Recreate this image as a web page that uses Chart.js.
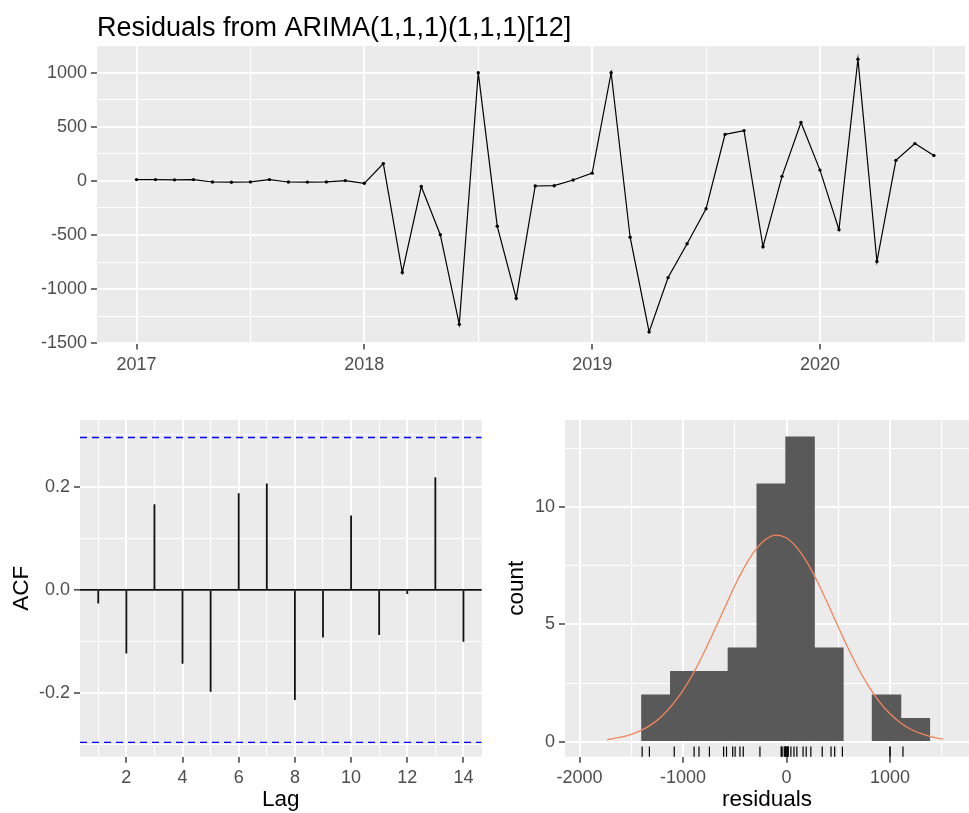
<!DOCTYPE html>
<html>
<head>
<meta charset="utf-8">
<title>Residuals from ARIMA(1,1,1)(1,1,1)[12]</title>
<script src="https://cdn.jsdelivr.net/npm/chart.js@4.4.1/dist/chart.umd.min.js"></script>
<style>
  body { margin: 0; background: #ffffff; }
  #wrap { position: relative; width: 969px; height: 813px; overflow: hidden; }
  canvas { position: absolute; }
</style>
</head>
<body>
<div id="wrap">
  <canvas id="chart-residuals" width="969" height="400" style="left:0;top:0"></canvas>
  <canvas id="chart-acf" width="490" height="413" style="left:0;top:400px"></canvas>
  <canvas id="chart-hist" width="479" height="413" style="left:490px;top:400px"></canvas>
</div>
<script>
// values
var plotTitle = 'Residuals from ARIMA(1,1,1)(1,1,1)[12]';
var startYear = 2017;
var residuals = [12, 12, 10, 12, -10, -12, -9, 12, -10, -11, -9, 3,
    -22, 160, -846, -52, -497, -1325, 1000, -418, -1085, -47, -44, 8,
    72, 1000, -520, -1395, -893, -580, -257, 430, 465, -608, 42, 540,
    100, -450, 1125, -745, 190, 345, 235];
var yearTicks = [2017, 2018, 2019, 2020];
var yearMinor = [2017.5, 2018.5, 2019.5, 2020.5];
var residTicks = [-1500, -1000, -500, 0, 500, 1000];
var residMinor = [-1250, -750, -250, 250, 750, 1250];

var acfLags = [1, 2, 3, 4, 5, 6, 7, 8, 9, 10, 11, 12, 13, 14];
var acfValues = [-0.026, -0.123, 0.166, -0.143, -0.197, 0.187, 0.206,
    -0.213, -0.092, 0.144, -0.087, -0.008, 0.218, -0.100];
var acfLimit = 0.295;
var lagTicks = [2, 4, 6, 8, 10, 12, 14];
var lagMinor = [1, 3, 5, 7, 9, 11, 13];
var acfTicks = [-0.2, 0, 0.2];
var acfMinor = [-0.3, -0.1, 0.1, 0.3];

var binCenters = [-1261.75, -983.25, -704.75, -426.25, -147.75, 130.75, 409.25, 687.75, 966.25, 1244.75];
var binCounts = [2, 3, 3, 4, 11, 13, 4, 0, 2, 1];
var curveX = [-1733, -1700, -1600, -1500, -1400, -1300, -1200, -1100, -1000, -900, -800, -700,
    -600, -500, -400, -300, -200, -100, 0, 100, 200, 300, 400, 500, 600, 700, 800, 900,
    1000, 1100, 1200, 1300, 1400, 1500, 1513];
var curveY = [0.09, 0.11, 0.19, 0.31, 0.49, 0.75, 1.11, 1.59, 2.19, 2.92, 3.78, 4.72,
    5.69, 6.65, 7.50, 8.18, 8.63, 8.81, 8.69, 8.28, 7.64, 6.81, 5.87, 4.89, 3.94, 3.07, 2.32, 1.69,
    1.19, 0.81, 0.53, 0.34, 0.21, 0.12, 0.12];
var histXTicks = [-2000, -1000, 0, 1000];
var histXMinor = [-1500, -500, 500, 1500];
var countTicks = [0, 5, 10];
var countMinor = [2.5, 7.5, 12.5];

Chart.defaults.font.family = "'Liberation Sans', Arial, sans-serif";
Chart.defaults.color = '#4D4D4D';

function has(list, v) {
    return list.some(function (m) { return Math.abs(m - v) < 1e-9; });
}

// grey panel like ggplot
var panelBg = {
    id: 'panelBg',
    beforeDraw: function (chart) {
        var a = chart.chartArea;
        var ctx = chart.ctx;
        ctx.save();
        ctx.fillStyle = '#EBEBEB';
        ctx.fillRect(a.left, a.top, a.right - a.left, a.bottom - a.top);
        ctx.restore();
    }
};

var rug = {
    id: 'rug',
    afterDatasetsDraw: function (chart) {
        var a = chart.chartArea;
        var ctx = chart.ctx;
        var len = (a.bottom - a.top) * 0.03;
        ctx.save();
        ctx.strokeStyle = '#000000';
        ctx.lineWidth = 1.2;
        residuals.forEach(function (v) {
            var px = chart.scales.x.getPixelForValue(v);
            ctx.beginPath();
            ctx.moveTo(px, a.bottom);
            ctx.lineTo(px, a.bottom - len);
            ctx.stroke();
        });
        ctx.restore();
    }
};

function makeAxis(min, max, major, minor, fmt, fitSize, horizontal, title, zeroLine) {
    var all = major.concat(minor).sort(function (a, b) { return a - b; });
    var axis = {
        type: 'linear',
        min: min,
        max: max,
        offset: false,
        border: { display: false },
        grid: {
            offset: false,
            drawTicks: true,
            tickLength: 6,
            tickWidth: 1.4,
            color: function (c) {
                if (zeroLine && c.tick && c.tick.value === 0) return '#111111';
                return '#FFFFFF';
            },
            lineWidth: function (c) {
                if (!c.tick) return 1;
                if (zeroLine && c.tick.value === 0) return 1.7;
                return has(major, c.tick.value) ? 2 : 1.1;
            },
            tickColor: function (c) {
                return c.tick && has(major, c.tick.value) ? '#333333' : 'rgba(0,0,0,0)';
            }
        },
        ticks: {
            autoSkip: false,
            maxRotation: 0,
            padding: horizontal ? 5 : 4,
            color: '#4D4D4D',
            font: { size: 18 },
            callback: function (v) { return has(major, v) ? fmt(v) : ''; }
        },
        afterBuildTicks: function (s) {
            s.ticks = all.map(function (v) { return { value: v }; });
        },
        afterFit: function (s) {
            if (horizontal) s.height = fitSize; else s.width = fitSize;
        }
    };
    if (title) {
        axis.title = {
            display: true,
            text: title.text,
            color: '#000000',
            font: { size: 22.5 },
            padding: title.padding
        };
    }
    return axis;
}

function plain(v) { return String(v); }
function oneDecimal(v) { return v.toFixed(1); }

var common = {
    responsive: false,
    animation: false,
    devicePixelRatio: 1,
    events: []
};

// top: residuals over time
new Chart(document.getElementById('chart-residuals'), {
    type: 'line',
    data: {
        datasets: [{
            data: residuals.map(function (v, i) { return { x: startYear + i / 12, y: v }; }),
            borderColor: '#000000',
            borderWidth: 1.2,
            pointRadius: 1.7,
            pointBackgroundColor: '#000000',
            pointBorderWidth: 0,
            tension: 0
        }]
    },
    options: Object.assign({}, common, {
        layout: { padding: 0 },
        plugins: {
            legend: { display: false },
            tooltip: { enabled: false },
            title: {
                display: true,
                text: plotTitle,
                align: 'start',
                fullSize: false,
                color: '#000000',
                font: { size: 27, weight: 'normal' },
                padding: { top: 12, bottom: 1 }
            }
        },
        scales: {
            x: makeAxis(2016.8265, 2020.6366, yearTicks, yearMinor, plain, 56.5, true),
            y: makeAxis(-1502, 1252, residTicks, residMinor, plain, 97, false)
        }
    }),
    plugins: [panelBg]
});

// bottom left: ACF
new Chart(document.getElementById('chart-acf'), {
    type: 'bar',
    data: {
        datasets: [{
            type: 'bar',
            data: acfLags.map(function (l, i) { return { x: l, y: acfValues[i] }; }),
            backgroundColor: '#111111',
            barThickness: 1.8,
            inflateAmount: 0,
            order: 1
        }, {
            type: 'line',
            data: [{ x: 0.35, y: acfLimit }, { x: 14.65, y: acfLimit }],
            borderColor: '#0000FF',
            borderWidth: 1.4,
            borderDash: [7, 5],
            pointRadius: 0,
            order: 0
        }, {
            type: 'line',
            data: [{ x: 0.35, y: -acfLimit }, { x: 14.65, y: -acfLimit }],
            borderColor: '#0000FF',
            borderWidth: 1.4,
            borderDash: [7, 5],
            pointRadius: 0,
            order: 0
        }]
    },
    options: Object.assign({}, common, {
        layout: { padding: { top: 20, right: 8.3, left: 0, bottom: 0 } },
        plugins: { legend: { display: false }, tooltip: { enabled: false } },
        scales: {
            x: makeAxis(0.35, 14.65, lagTicks, lagMinor, plain, 56.3, true,
                { text: 'Lag', padding: { top: 0, bottom: 0 } }),
            y: makeAxis(-0.3227, 0.329, acfTicks, acfMinor, oneDecimal, 80, false,
                { text: 'ACF', padding: { top: 8, bottom: 0 } }, true)
        }
    }),
    plugins: [panelBg]
});

// bottom right: histogram with normal curve and rug
new Chart(document.getElementById('chart-hist'), {
    type: 'bar',
    data: {
        datasets: [{
            type: 'bar',
            data: binCenters.map(function (c, i) { return { x: c, y: binCounts[i] }; }),
            backgroundColor: function (c) {
                return c.raw && c.raw.y === 0 ? 'rgba(0,0,0,0)' : '#595959';
            },
            borderWidth: 0,
            barPercentage: 1,
            categoryPercentage: 1,
            order: 1
        }, {
            type: 'line',
            data: curveX.map(function (x, i) { return { x: x, y: curveY[i] }; }),
            borderColor: '#F4845C',
            borderWidth: 1.3,
            pointRadius: 0,
            cubicInterpolationMode: 'monotone',
            order: 0
        }]
    },
    options: Object.assign({}, common, {
        layout: { padding: { top: 20, right: 0, left: 0, bottom: 0 } },
        plugins: { legend: { display: false }, tooltip: { enabled: false } },
        scales: {
            x: makeAxis(-2140.5, 1763, histXTicks, histXMinor, plain, 56.3, true,
                { text: 'residuals', padding: { top: 0, bottom: 0 } }),
            y: makeAxis(-0.64, 13.72, countTicks, countMinor, plain, 75, false,
                { text: 'count', padding: { top: 12.8, bottom: 0 } })
        }
    }),
    plugins: [panelBg, rug]
});
</script>
</body>
</html>
